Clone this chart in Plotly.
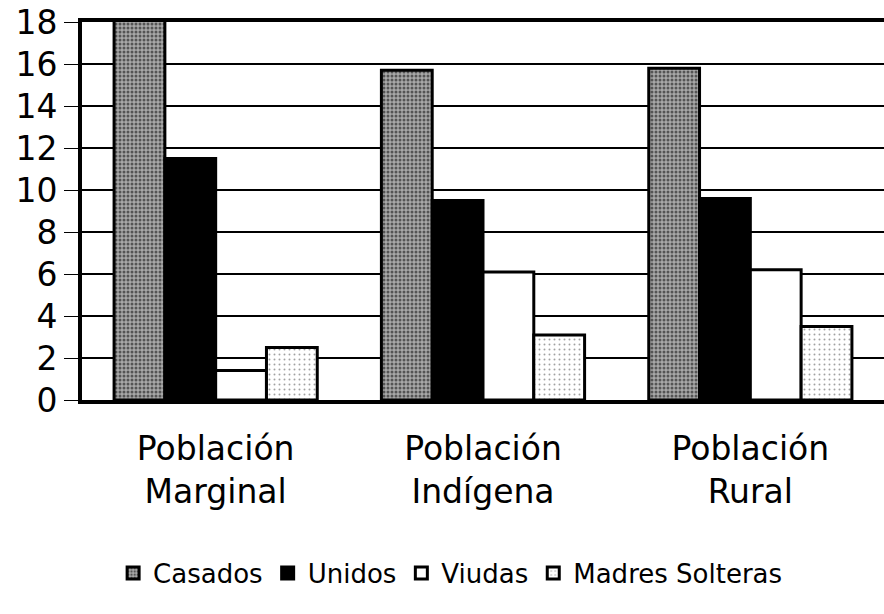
import plotly.graph_objects as go

categories = ["Población<br>Marginal", "Población<br>Indígena", "Población<br>Rural"]
series_names = ["Casados", "Unidos", "Viudas", "Madres Solteras"]
casados = [18.5, 15.7, 15.8]
unidos = [11.5, 9.5, 9.6]
viudas = [1.4, 6.1, 6.2]
madres_solteras = [2.5, 3.1, 3.5]
y_ticks = [0, 2, 4, 6, 8, 10, 12, 14, 16, 18]

FONT = "DejaVu Sans"

styles = {
    "Casados": dict(color="#8a8a8a",
                    pattern=dict(shape=".", fgcolor="#000000", bgcolor="#a8a8a8", size=4, solidity=0.45)),
    "Unidos": dict(color="#000000"),
    "Viudas": dict(color="#ffffff"),
    "Madres Solteras": dict(color="#f4f4f4",
                            pattern=dict(shape=".", fgcolor="#444444", bgcolor="#ffffff", size=5, solidity=0.12)),
}

fig = go.Figure()
for name, vals in zip(series_names, [casados, unidos, viudas, madres_solteras]):
    st = styles[name]
    marker = dict(color=st["color"], line=dict(color="black", width=3))
    if "pattern" in st:
        marker["pattern"] = st["pattern"]
    fig.add_trace(go.Bar(name=name, x=categories, y=vals, marker=marker, cliponaxis=True))

fig.update_layout(
    width=884, height=614,
    margin=dict(l=82, r=0, t=22, b=214),
    paper_bgcolor="white", plot_bgcolor="white",
    barmode="group", bargap=0.24, bargroupgap=0,
    font=dict(family=FONT, color="black"),
    showlegend=True,
    legend=dict(orientation="h", x=0.459, xanchor="center", y=-0.458, yanchor="middle",
                font=dict(family=FONT, size=26, color="black"), itemwidth=30,
                traceorder="normal"),
)
fig.update_yaxes(range=[0, 18], tickvals=y_ticks, showgrid=True, gridcolor="black", gridwidth=1.5,
                 showline=True, linecolor="black", linewidth=4, ticks="outside", ticklen=14,
                 tickcolor="black", tickwidth=1, tickfont=dict(family=FONT, size=33, color="black"),
                 ticklabeloverflow="allow",
                 zeroline=False, fixedrange=True, automargin=False)
fig.update_xaxes(showline=True, linecolor="black", linewidth=4, mirror=True, ticks="",
                 tickfont=dict(family=FONT, size=33, color="black"), ticklabelstandoff=16,
                 automargin=False)

# remove the default 8px page margin so the figure fills the window exactly
fig.write_html("out.html", config={"displayModeBar": False},
               post_script="document.body.style.margin='0';document.body.style.overflow='hidden';")
